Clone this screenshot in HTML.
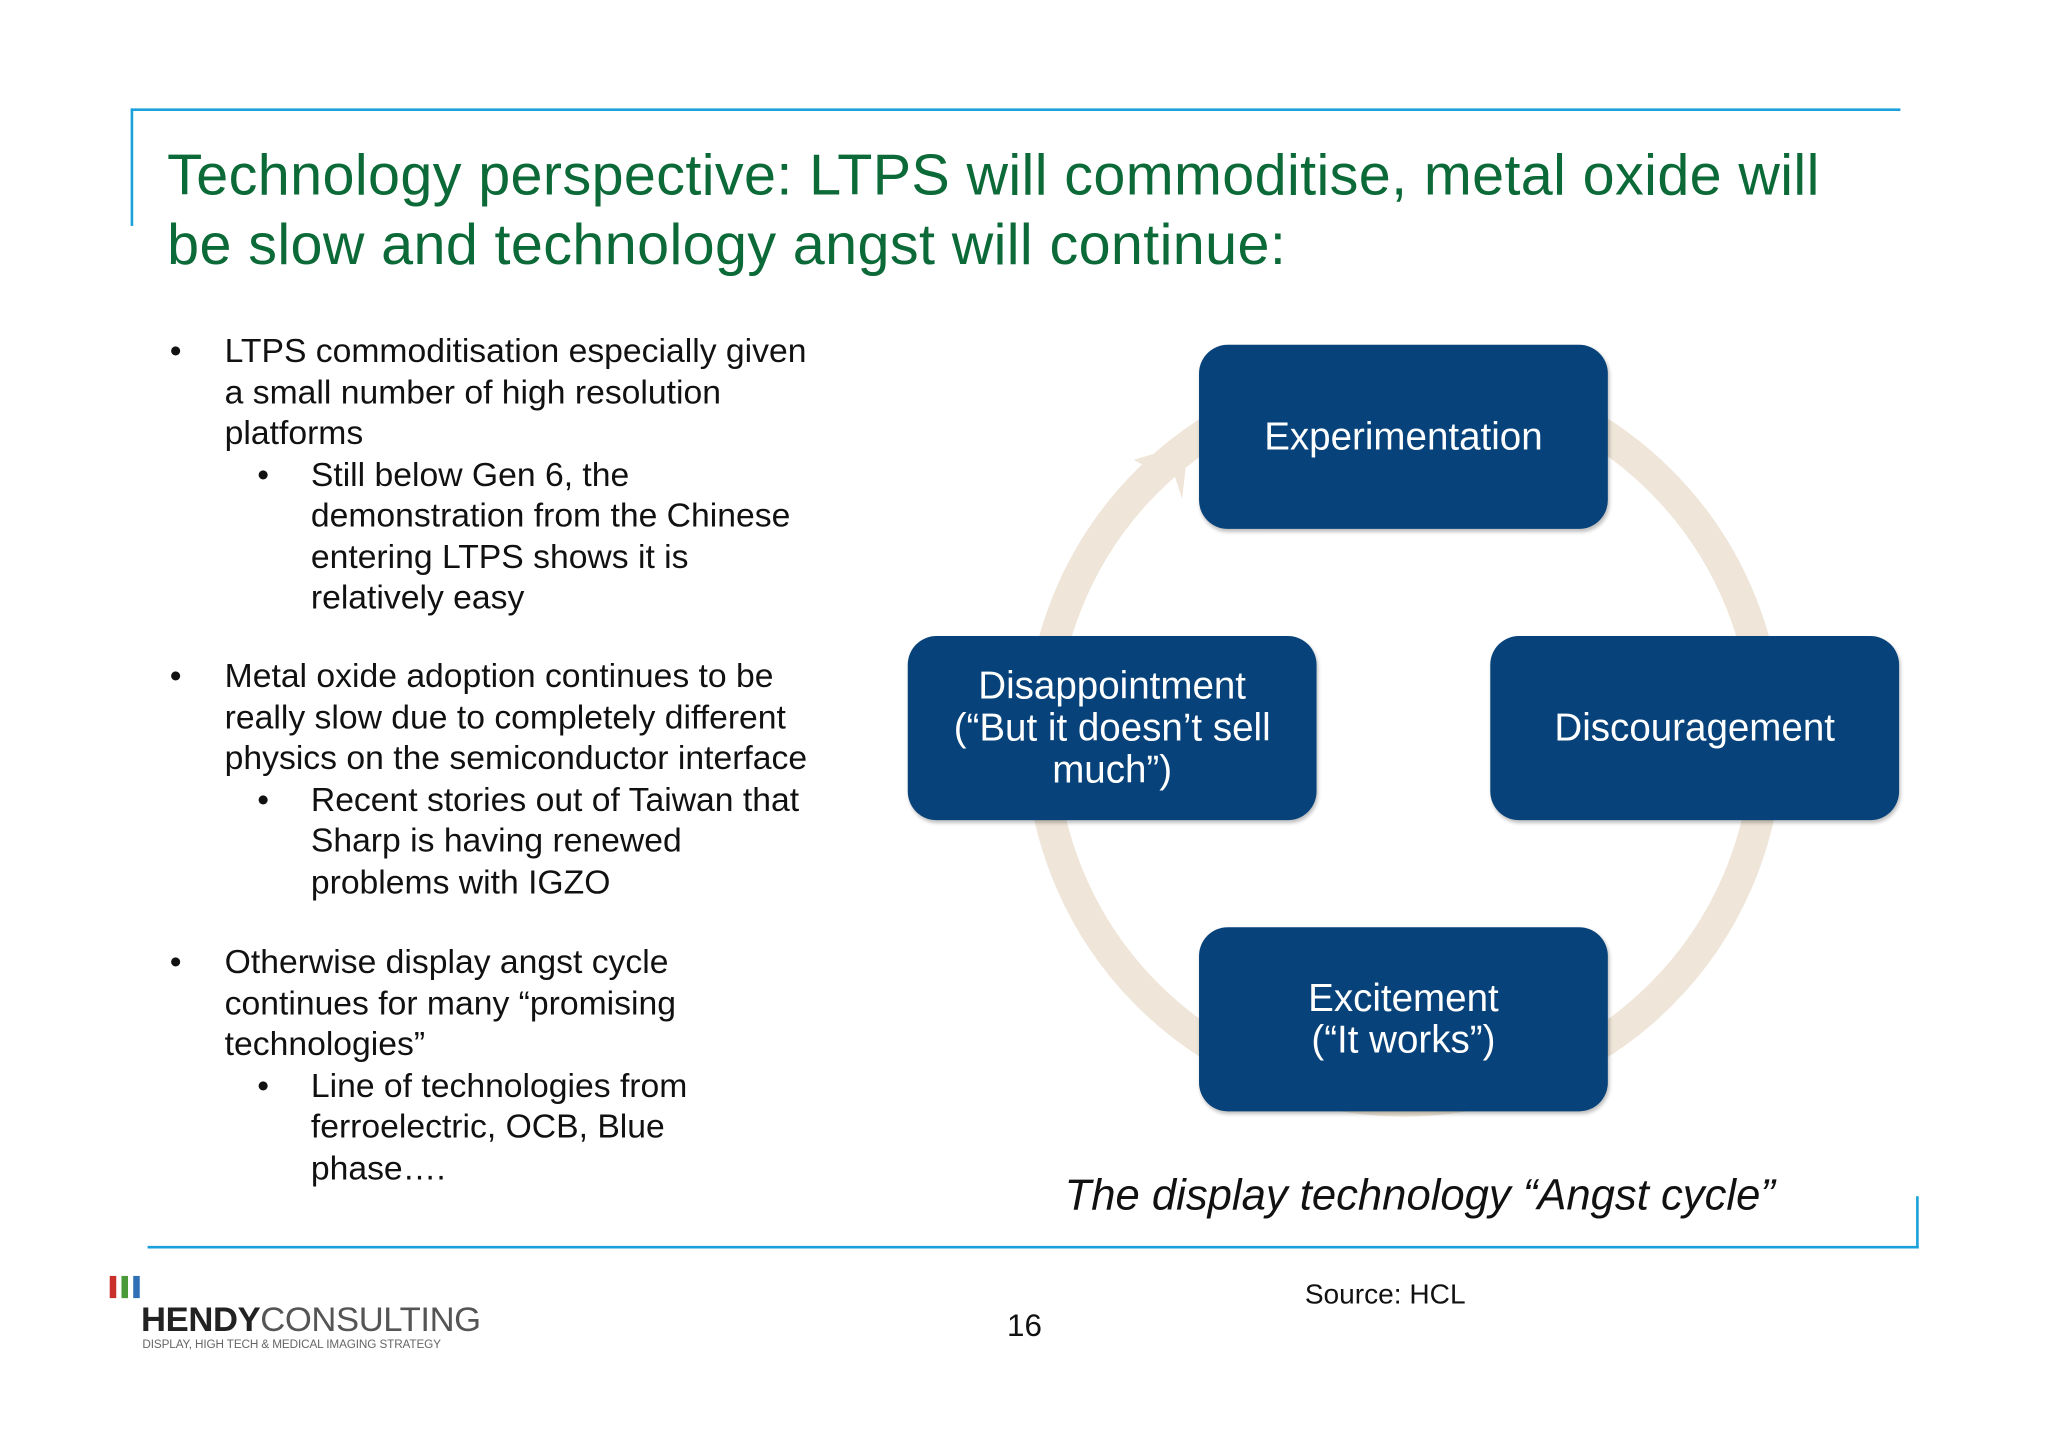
<!DOCTYPE html>
<html><head><meta charset="utf-8"><style>
html,body{margin:0;padding:0;background:#fff;width:2048px;height:1447px;overflow:hidden}
#s{position:absolute;left:0;top:0;width:1568px;height:1108px;transform:scale(1.30612,1.30596);transform-origin:0 0;font-family:"Liberation Sans",sans-serif;color:#111}
.ab{position:absolute}
.title{left:128px;top:108px;font-size:44px;line-height:53px;color:#0b6a37;width:1300px;letter-spacing:0.3px}
ul{margin:0;padding:0;list-style:none}
.b{position:absolute;left:130px;font-size:25.8px;line-height:31.5px;white-space:nowrap}
.b li{position:relative;padding-left:42px}
.b li::before{content:"•";position:absolute;left:0}
.b li.s{padding-left:108px}
.b li.s::before{left:67px}
.box{position:absolute;width:313px;height:141px;background:#07437a;border-radius:22px;color:#fff;font-size:29.5px;line-height:32px;display:flex;align-items:center;justify-content:center;text-align:center;box-shadow:1px 2px 3px rgba(0,0,0,.25)}
</style></head><body>
<div id="s">
<div class="ab" style="left:100px;top:83px;width:1355px;height:2px;background:#1aa1dc"></div>
<div class="ab" style="left:100px;top:83px;width:2px;height:90px;background:#1aa1dc"></div>
<div class="ab" style="left:113px;top:954px;width:1356px;height:2px;background:#1aa1dc"></div>
<div class="ab" style="left:1467px;top:916px;width:2px;height:40px;background:#1aa1dc"></div>
<div class="ab title">Technology perspective: LTPS will commoditise, metal oxide will<br>be slow and technology angst will continue:</div>

<ul class="b" style="top:254px">
<li>LTPS commoditisation especially given<br>a small number of high resolution<br>platforms</li>
<li class="s">Still below Gen 6, the<br>demonstration from the Chinese<br>entering LTPS shows it is<br>relatively easy</li></ul>
<ul class="b" style="top:503px">
<li>Metal oxide adoption continues to be<br>really slow due to completely different<br>physics on the semiconductor interface</li>
<li class="s">Recent stories out of Taiwan that<br>Sharp is having renewed<br>problems with IGZO</li></ul>
<ul class="b" style="top:722px">
<li>Otherwise display angst cycle<br>continues for many “promising<br>technologies”</li>
<li class="s">Line of technologies from<br>ferroelectric, OCB, Blue<br>phase….</li></ul>

<svg class="ab" style="left:0;top:0" width="1568" height="1108">
<circle cx="1075" cy="565" r="278" fill="none" stroke="#efe5d8" stroke-width="24"/>
<polygon points="910,340 868,352 882,360 880,372 898,360 905,382" fill="#efe5d8"/>
</svg>
<div class="box" style="left:918px;top:264px">Experimentation</div>
<div class="box" style="left:695px;top:487px">Disappointment<br>(“But it doesn’t sell<br>much”)</div>
<div class="box" style="left:1141px;top:487px">Discouragement</div>
<div class="box" style="left:918px;top:710px">Excitement<br>(“It works”)</div>

<div class="ab" style="left:760px;top:897px;width:654px;text-align:center;font-size:33.4px;font-style:italic">The display technology “Angst cycle”</div>
<div class="ab" style="left:999px;top:979px;font-size:21.5px">Source: HCL</div>
<div class="ab" style="left:771px;top:1002px;font-size:24px">16</div>

<div class="ab" style="left:84px;top:977px">
<div class="ab" style="left:0;top:0;width:5px;height:17px;background:#c9302c"></div>
<div class="ab" style="left:9px;top:0;width:5px;height:17px;background:#4a9a3a"></div>
<div class="ab" style="left:18px;top:0;width:5px;height:17px;background:#2f6fb5"></div>
<div class="ab" style="left:24px;top:18px;font-size:26.5px;white-space:nowrap;letter-spacing:-0.3px"><b style="color:#222">HENDY</b><span style="color:#555">CONSULTING</span></div>
<div class="ab" style="left:25px;top:47px;font-size:9px;color:#666;white-space:nowrap;letter-spacing:-0.1px">DISPLAY, HIGH TECH &amp; MEDICAL IMAGING STRATEGY</div>
</div>
</div>
</body></html>
